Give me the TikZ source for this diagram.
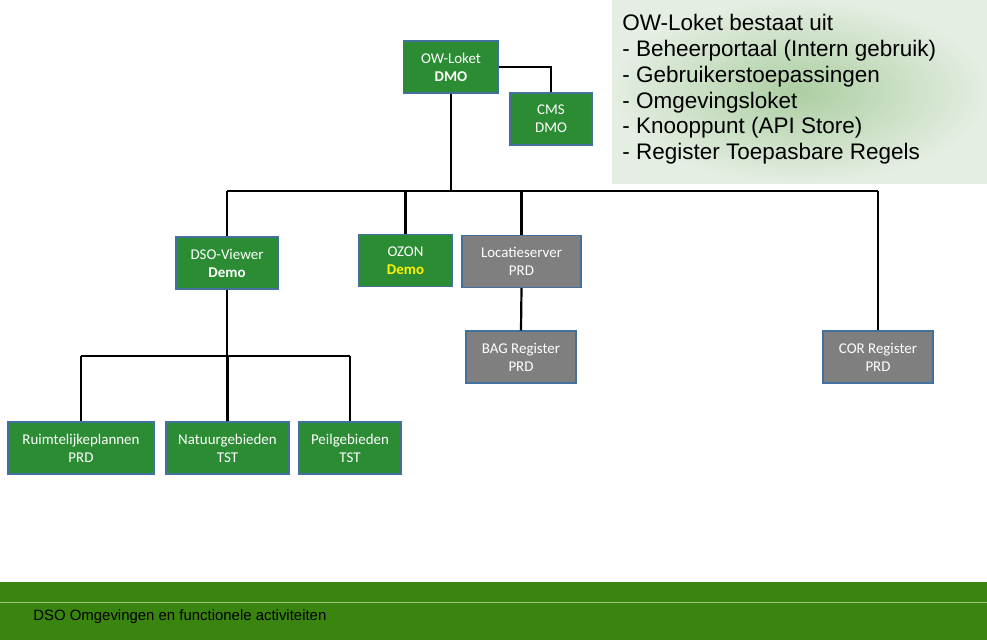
\documentclass[tikz,border=0pt]{standalone}
\usepackage{fontspec}
\setmainfont{Carlito}
\newfontfamily\arialfont{Liberation Sans}
\usetikzlibrary{calc}

\definecolor{boxgreen}{RGB}{44,140,52}
\definecolor{boxgrey}{RGB}{127,127,127}
\definecolor{boxedge}{RGB}{65,113,156}
\definecolor{panelin}{RGB}{172,206,162}
\definecolor{panelout}{RGB}{228,238,226}
\definecolor{footgreen}{RGB}{58,133,16}
\definecolor{footline}{RGB}{160,196,130}

\tikzset{
	sysbox/.style={draw=boxedge,line width=0.6pt,text=white,align=center,inner sep=0pt,
		minimum height=1.04cm,font=\fontsize{8.5}{10.2}\selectfont},
	greenbox/.style={sysbox,fill=boxgreen},
	greybox/.style={sysbox,fill=boxgrey},
	link/.style={line width=1.25pt,black}
}

\begin{document}
\begin{tikzpicture}[x=0.02cm,y=-0.02cm]
	\useasboundingbox (0,0) rectangle (987,640);
	
	%panel and footer
	\shade[inner color=panelin,outer color=panelout] (612,0) rectangle (987,183);
	\fill[footgreen] (0,582) rectangle (987,640);
	\draw[footline,line width=0.5pt] (0,602)--(987,602);
	
	%boxes
	\node[greenbox,minimum width=1.9cm]  (owl)    at (451,67)    {OW-Loket\\\textbf{DMO}};
	\node[greenbox,minimum width=1.64cm] (cms)    at (551,119)   {CMS\\DMO};
	\node[greenbox,minimum width=2.04cm] (dsov)   at (227,263)   {DSO-Viewer\\\textbf{Demo}};
	\node[greenbox,minimum width=1.86cm] (ozon)   at (405.5,260.5) {OZON\\\textcolor{yellow}{\textbf{Demo}}};
	\node[greybox,minimum width=2.38cm]  (loc)    at (521.5,261.5) {Locatieserver\\PRD};
	\node[greybox,minimum width=2.2cm]   (bag)    at (521,357)   {BAG Register\\PRD};
	\node[greybox,minimum width=2.2cm]   (cor)    at (878,357)   {COR Register\\PRD};
	\node[greenbox,minimum width=2.92cm] (ruimte) at (81,448)    {Ruimtelijkeplannen\\PRD};
	\node[greenbox,minimum width=2.46cm] (natuur) at (227.5,448) {Natuurgebieden\\TST};
	\node[greenbox,minimum width=2.04cm] (peil)   at (350,448)   {Peilgebieden\\TST};
	
	%lines
	\coordinate (busa) at (0,191);
	\coordinate (busb) at (0,356);
	\draw[link] (owl.east) -| (cms.north);
	\draw[link] (owl.south) -- (owl.south |- busa);
	\draw[link] (dsov.north |- busa) -- (cor.north |- busa);
	\foreach \n in {dsov,ozon,loc,cor}
		\draw[link] (\n.north) -- (\n.north |- busa);
	\draw[link] (loc.south) -- (bag.north);
	\draw[link] (dsov.south) -- (dsov.south |- busb);
	\draw[link] (ruimte.north |- busb) -- (peil.north |- busb);
	\foreach \n in {ruimte,natuur,peil}
		\draw[link] (\n.north) -- (\n.north |- busb);
	
	%texts
	\node[anchor=north west,align=left,inner sep=0pt,font=\arialfont\fontsize{12.8}{14.7}\selectfont] (info) at (622,14)
		{OW-Loket bestaat uit\\- Beheerportaal (Intern gebruik)\\- Gebruikerstoepassingen\\- Omgevingsloket\\- Knooppunt (API Store)\\- Register Toepasbare Regels};
	\node[anchor=base west,inner sep=0pt,font=\arialfont\fontsize{8.5}{9}\selectfont] (foot) at (33,620)
		{DSO Omgevingen en functionele activiteiten};
\end{tikzpicture}
\end{document}
